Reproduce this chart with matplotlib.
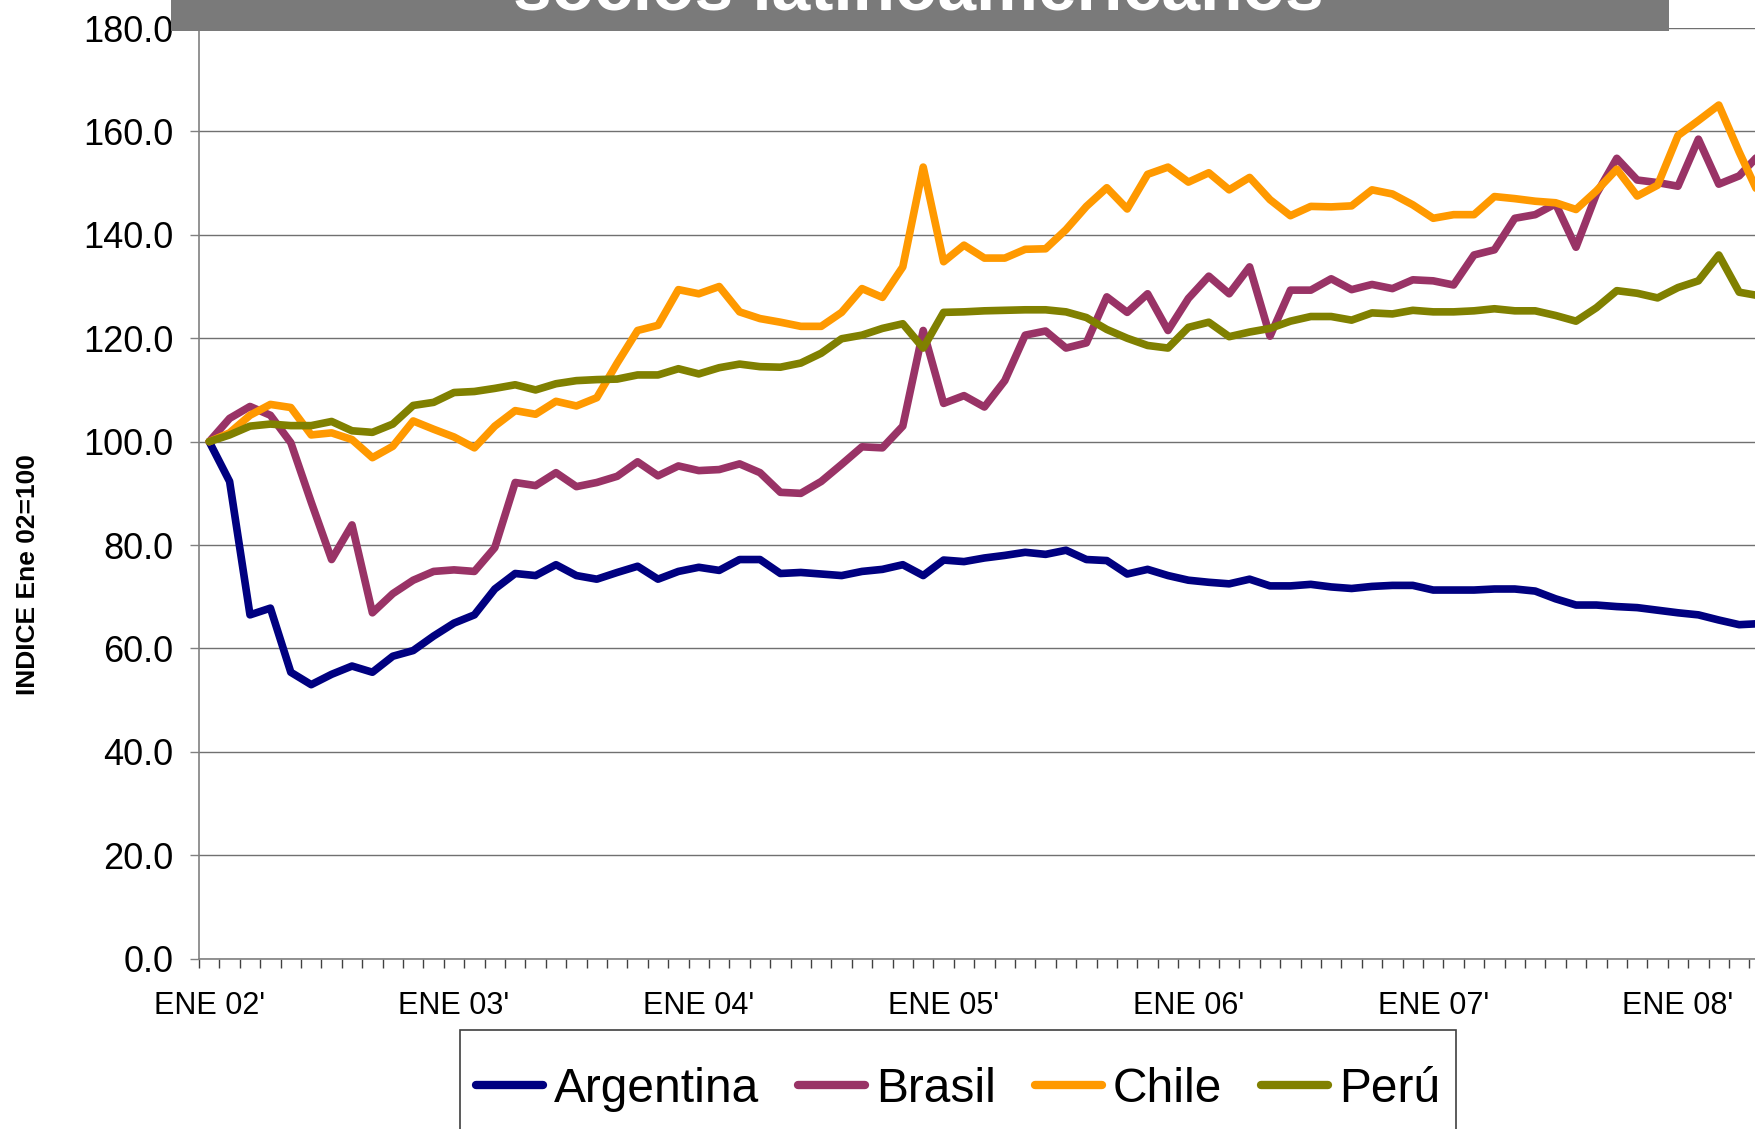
import numpy as np
import matplotlib
matplotlib.use('Agg')
import matplotlib.pyplot as plt
from matplotlib.patches import Rectangle
from matplotlib.ticker import FormatStrFormatter

plt.rcParams['font.family'] = ['Liberation Sans', 'DejaVu Sans']

# monthly index, Jan 2002 = 100 (Jan 02 .. May 08)
months = np.arange(77)

argentina = [100.0, 92.3, 66.5, 67.8, 55.4, 53.0, 55.0, 56.6, 55.4, 58.5,
             59.6, 62.4, 64.9, 66.5, 71.5, 74.5, 74.1, 76.2, 74.1, 73.4,
             74.7, 75.9, 73.4, 74.9, 75.7, 75.1, 77.2, 77.2, 74.5, 74.7,
             74.4, 74.1, 74.9, 75.3, 76.2, 74.1, 77.1, 76.8, 77.5, 78.0,
             78.6, 78.2, 79.0, 77.2, 77.0, 74.4, 75.3, 74.1, 73.2, 72.8,
             72.5, 73.4, 72.1, 72.1, 72.4, 71.9, 71.6, 72.0, 72.2, 72.2,
             71.3, 71.3, 71.3, 71.5, 71.5, 71.1, 69.6, 68.4, 68.4, 68.1,
             67.9, 67.4, 66.9, 66.5, 65.5, 64.6, 64.8]

brasil = [100.0, 104.5, 106.8, 105.1, 99.8, 88.3, 77.2, 83.9, 66.9, 70.6,
          73.2, 74.9, 75.2, 74.9, 79.5, 92.1, 91.5, 94.0, 91.3, 92.1,
          93.3, 96.1, 93.4, 95.3, 94.4, 94.6, 95.7, 94.0, 90.2, 90.0,
          92.3, 95.6, 99.0, 98.8, 103.0, 121.5, 107.4, 108.9, 106.7, 111.8,
          120.6, 121.4, 118.1, 119.1, 128.0, 125.0, 128.6, 121.5, 127.7, 132.0,
          128.6, 133.8, 120.4, 129.3, 129.3, 131.5, 129.4, 130.4, 129.6, 131.3,
          131.1, 130.3, 136.1, 137.1, 143.2, 143.9, 146.0, 137.6, 147.9, 154.8,
          150.6, 150.1, 149.4, 158.5, 149.8, 151.4, 155.6]

chile = [100.0, 101.7, 105.1, 107.2, 106.6, 101.3, 101.7, 100.4, 96.9, 99.1,
         104.0, 102.4, 100.9, 98.8, 103.0, 106.0, 105.3, 107.8, 106.9, 108.5,
         115.2, 121.5, 122.5, 129.4, 128.6, 130.0, 125.1, 123.8, 123.1, 122.3,
         122.3, 125.0, 129.6, 127.9, 133.8, 153.1, 134.8, 138.0, 135.5, 135.5,
         137.2, 137.3, 141.0, 145.5, 149.1, 145.0, 151.7, 153.1, 150.2, 152.0,
         148.7, 151.1, 146.8, 143.7, 145.5, 145.4, 145.6, 148.7, 147.9, 145.8,
         143.2, 143.9, 143.9, 147.4, 147.0, 146.5, 146.2, 144.9, 148.5, 152.7,
         147.5, 149.6, 159.2, 162.1, 165.1, 156.0, 147.5]

peru = [100.0, 101.3, 103.0, 103.4, 103.1, 103.1, 103.9, 102.1, 101.8, 103.4,
        107.0, 107.6, 109.5, 109.7, 110.3, 111.0, 110.0, 111.2, 111.8, 112.0,
        112.1, 112.9, 112.9, 114.1, 113.1, 114.3, 115.0, 114.5, 114.4, 115.2,
        117.1, 119.9, 120.6, 121.9, 122.8, 118.1, 125.0, 125.1, 125.3, 125.4,
        125.5, 125.5, 125.1, 124.0, 121.7, 120.0, 118.6, 118.1, 122.1, 123.1,
        120.3, 121.2, 121.9, 123.3, 124.2, 124.2, 123.5, 124.9, 124.7, 125.4,
        125.1, 125.1, 125.3, 125.7, 125.3, 125.3, 124.4, 123.3, 125.9, 129.2,
        128.7, 127.8, 129.8, 131.1, 136.1, 128.9, 128.2]

series_names = ['Argentina', 'Brasil', 'Chile', 'Perú']
series_colors = ['#000080', '#993366', '#FF9900', '#808000']

tick_pos = [0, 12, 24, 36, 48, 60, 72]
tick_labels = ["ENE 02'", "ENE 03'", "ENE 04'", "ENE 05'", "ENE 06'", "ENE 07'", "ENE 08'"]

W, H = 1756, 1129
fig = plt.figure(figsize=(W / 100, H / 100), dpi=100)
# plot area runs past the right edge of the picture (cropped chart)
ax = fig.add_axes([199 / W, 170.3 / H, 80 * 20.4 / W, 930.7 / H])

for vals, color, name in zip([argentina, brasil, chile, peru], series_colors, series_names):
    ax.plot(months, vals, color=color, lw=5.5, label=name,
            solid_joinstyle='round', solid_capstyle='round')

ax.set_xlim(-0.5, 79.5)
ax.set_ylim(0, 180)
ax.set_yticks(np.arange(0, 181, 20))
ax.yaxis.set_major_formatter(FormatStrFormatter('%.1f'))
ax.grid(axis='y', color='#707070', lw=1)
ax.set_axisbelow(True)

for s in ['top', 'right']:
    ax.spines[s].set_visible(False)
for s in ['left', 'bottom']:
    ax.spines[s].set_color('#808080')
    ax.spines[s].set_linewidth(1.2)

ax.set_xticks(tick_pos)
ax.set_xticklabels(tick_labels)
ax.set_xticks(np.arange(-0.5, 80, 1), minor=True)
ax.tick_params(axis='x', which='major', length=0, pad=23, labelsize=22)
ax.tick_params(axis='x', which='minor', length=6.5, width=1, direction='out', color='#404040')
ax.tick_params(axis='y', length=6.5, width=1, pad=12, labelsize=26, color='#808080')

fig.text(28 / W, 1 - 575 / H, 'INDICE Ene 02=100', rotation=90, fontsize=19,
         fontweight='bold', ha='center', va='center')

# title banner, mostly cut off at the top
fig.add_artist(Rectangle((171 / W, 1 - 30.5 / H), 1498 / W, 0.05, transform=fig.transFigure,
                         facecolor='#7a7a7a', edgecolor='none', zorder=5))
fig.text(918 / W, 1 - 10 / H, 'socios latinoamericanos', fontsize=50, fontweight='bold',
         color='white', ha='center', va='baseline', zorder=6)

# legend frame runs off the bottom of the picture
fig.add_artist(Rectangle((460 / W, -0.05), 996 / W, 0.05 + 1 - 1030 / H, transform=fig.transFigure,
                         facecolor='white', edgecolor='#404040', lw=1.2, zorder=4))
handles, labels = ax.get_legend_handles_labels()
leg = fig.legend(handles, labels, loc='center', bbox_to_anchor=(958 / W, 1 - 1089 / H),
                 bbox_transform=fig.transFigure, ncol=4, fontsize=34.5, frameon=False,
                 handlelength=1.4, handletextpad=0.24, columnspacing=0.8,
                 borderpad=0.2, borderaxespad=0)
leg.set_zorder(6)
for h in leg.get_lines():
    h.set_linewidth(6)

fig.savefig('out.png', dpi=100)
